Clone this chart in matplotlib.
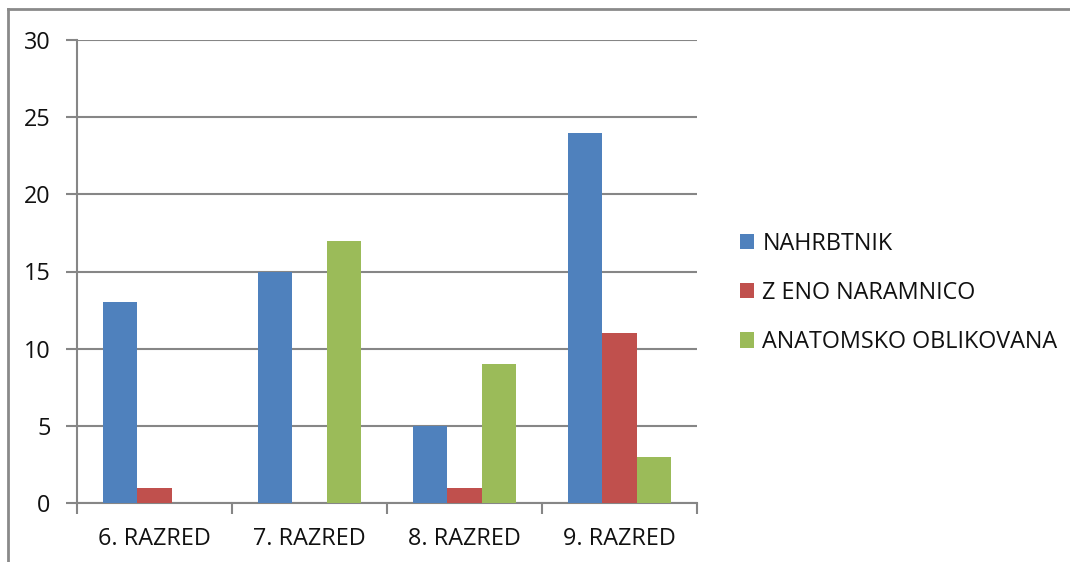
import matplotlib.pyplot as plt
from matplotlib.lines import Line2D
from matplotlib.patches import Patch
import numpy as np

# data
razredi = ["6. RAZRED", "7. RAZRED", "8. RAZRED", "9. RAZRED"]
nahrbtnik = [13, 15, 5, 24]
z_eno_naramnico = [1, 0, 1, 11]
anatomsko = [0, 17, 9, 3]
serije = ["NAHRBTNIK", "Z ENO NARAMNICO", "ANATOMSKO OBLIKOVANA"]
barve = ["#4F81BD", "#C0504D", "#9BBB59"]

plt.rcParams["font.family"] = ["Open Sans", "DejaVu Sans"]
GRID = "#868686"
FS = 16.8

fig = plt.figure(figsize=(10.7, 5.62), dpi=100)
ax = fig.add_axes([77 / 1070, 59 / 562, 620 / 1070, 463 / 562])

x = np.arange(len(razredi))
w = 0.223
for i, (vals, c) in enumerate(zip([nahrbtnik, z_eno_naramnico, anatomsko], barve)):
    ax.bar(x + (i - 1) * w, vals, w, color=c, zorder=3)

ax.set_xlim(-0.5, len(razredi) - 0.5)
ax.set_ylim(0, 30)
ax.set_yticks(range(0, 31, 5))
ax.yaxis.grid(True, color=GRID, linewidth=1.5, zorder=0)

# category ticks sit between the groups
ax.set_xticks(np.arange(-0.5, len(razredi)), minor=False)
ax.set_xticklabels([])
ax.set_xticks(x, minor=True)
ax.set_xticklabels(razredi, minor=True, fontsize=FS, color="#111111")
ax.tick_params(axis="x", which="minor", length=0, pad=17)
ax.tick_params(axis="x", which="major", length=8, width=1.5, color=GRID)
ax.tick_params(axis="y", length=8, width=1.5, color=GRID, labelsize=FS,
               labelcolor="#111111", pad=11)

for s in ["top", "right"]:
    ax.spines[s].set_visible(False)
for s in ["left", "bottom"]:
    ax.spines[s].set_color(GRID)
    ax.spines[s].set_linewidth(1.5)

handles = [Patch(facecolor=c, edgecolor="none") for c in barve]
leg = fig.legend(handles, serije, loc="center left", bbox_to_anchor=(728 / 1070, 1 - 293 / 562),
                 frameon=False, fontsize=FS, handlelength=0.62, handleheight=0.62,
                 handletextpad=0.35, labelspacing=1.08, borderpad=0)
for t in leg.get_texts():
    t.set_color("#111111")

# outer frame
fig.add_artist(Line2D([8 / 1070, 8 / 1070], [0, 1 - 9 / 562], color="#8A8A8A", linewidth=2))
fig.add_artist(Line2D([8 / 1070, 1], [1 - 9 / 562, 1 - 9 / 562], color="#8A8A8A", linewidth=2))

fig.savefig("out.png", dpi=100)
